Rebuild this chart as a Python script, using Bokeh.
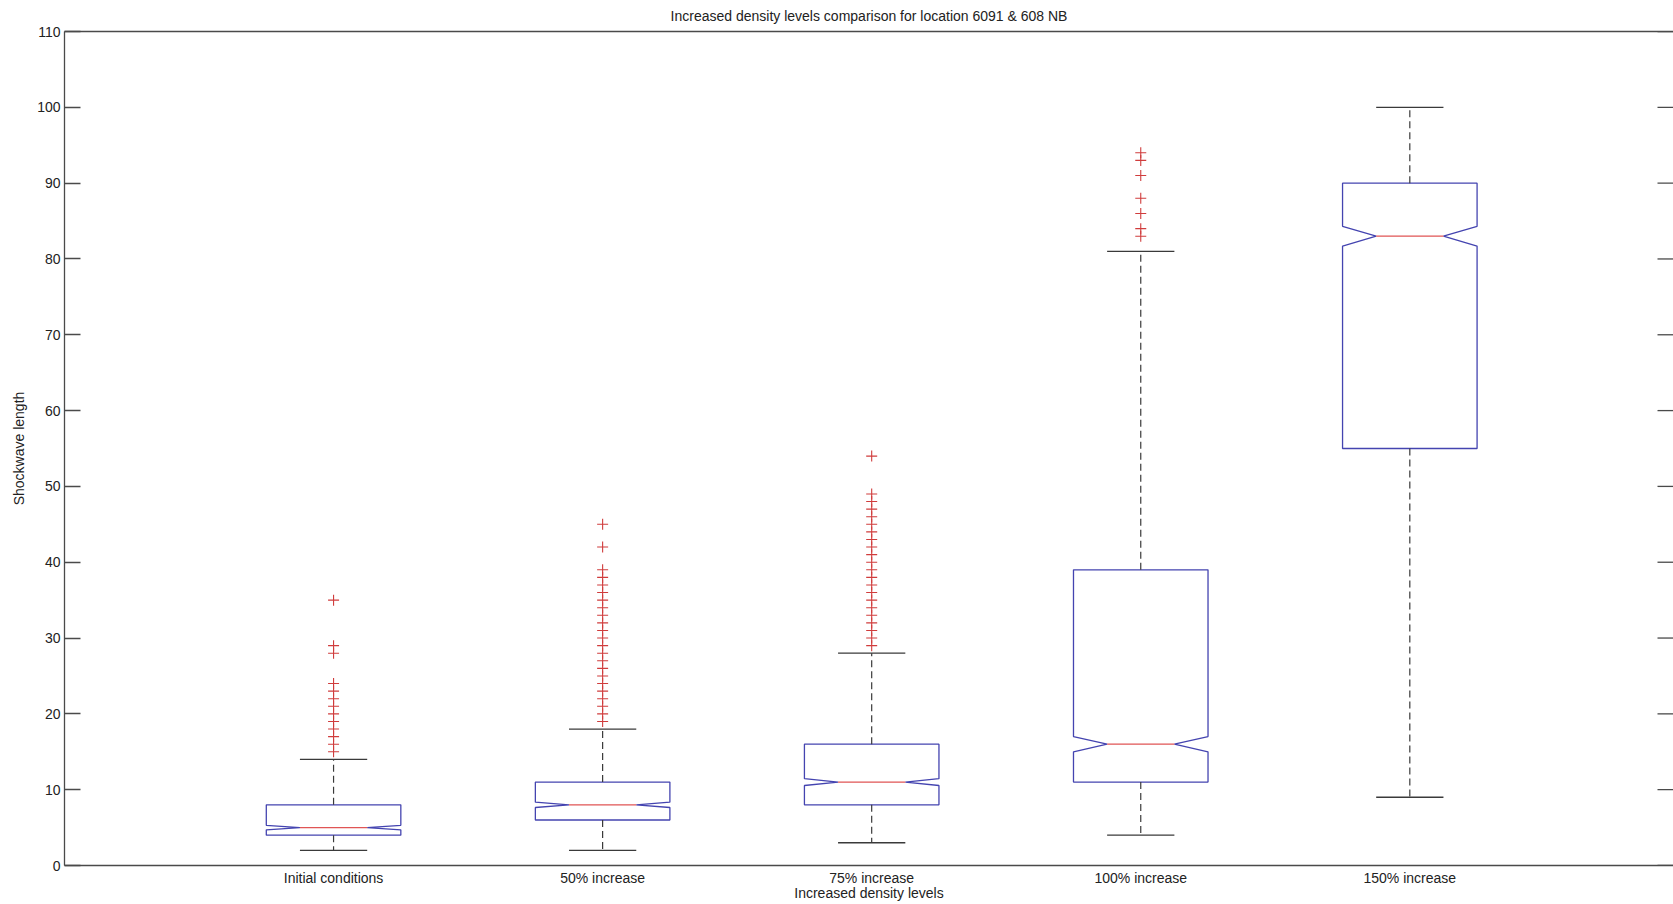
from bokeh.plotting import figure
from bokeh.models import Range1d, FixedTicker, LinearAxis
from bokeh.embed import file_html
from bokeh.resources import INLINE

# ---- data ----
categories = ["Initial conditions", "50% increase", "75% increase", "100% increase", "150% increase"]
lower_whisker = [2, 2, 3, 4, 9]
q1 = [4, 6, 8, 11, 55]
median = [5, 8, 11, 16, 83]
q3 = [8, 11, 16, 39, 90]
upper_whisker = [14, 18, 28, 81, 100]
notch_half = [0.3, 0.35, 0.45, 1.0, 1.3]

outliers_initial = [35, 29, 28, 24, 23, 22, 21, 20, 19, 18, 17, 16, 15]
outliers_50 = [45, 42, 39, 38, 37, 36, 35, 34, 33, 32, 31, 30, 29, 28, 27, 26, 25, 24, 23, 22, 21, 20, 19]
outliers_75 = [54, 49, 48, 47, 46, 45, 44, 43, 42, 41, 40, 39, 38, 37, 36, 35, 34, 33, 32, 31, 30, 29]
outliers_100 = [94, 93, 91, 88, 86, 84, 83]
outliers_150 = []
outliers = [outliers_initial, outliers_50, outliers_75, outliers_100, outliers_150]

y_ticks = [0, 10, 20, 30, 40, 50, 60, 70, 80, 90, 100, 110]

TITLE = "Increased density levels comparison for location 6091 & 608 NB"
X_LABEL = "Increased density levels"
Y_LABEL = "Shockwave length"

# ---- styling ----
FONT = "Liberation Sans"
TEXT_COLOR = "#222222"
BOX_COLOR = "#4444b0"
MED_COLOR = "#e05555"
WHISK_COLOR = "#3a3a3a"
OUT_COLOR = "#d03c3c"
AXIS_COLOR = "#4a4a4a"
BOX_HALF = 0.25
CAP_HALF = 0.125
NOTCH_IN = 0.125
X_MIN, X_MAX = 0, 5.98
TICK_PX = 16

positions = [i + 1 for i in range(len(categories))]

p = figure(width=1673, height=904,
           x_range=Range1d(X_MIN, X_MAX), y_range=Range1d(0, 110),
           output_backend="svg", toolbar_location=None,
           title=TITLE,
           min_border_left=64, min_border_right=0,
           min_border_top=31, min_border_bottom=39,
           background_fill_color="white", border_fill_color="white",
           outline_line_color=None)
p.grid.visible = False

p.title.text_font = FONT
p.title.text_font_size = "14px"
p.title.text_font_style = "normal"
p.title.text_color = TEXT_COLOR
p.title.align = "center"
p.title.vertical_align = "top"
p.title.standoff = 12

# x axis (bottom)
xa = p.xaxis[0]
xa.ticker = FixedTicker(ticks=positions)
xa.major_label_overrides = {pos: cat for pos, cat in zip(positions, categories)}
xa.major_tick_line_color = None
xa.major_tick_in = 0
xa.major_tick_out = 0
xa.minor_tick_line_color = None
xa.axis_line_color = AXIS_COLOR
xa.axis_line_width = 1.3
xa.major_label_text_font = FONT
xa.major_label_text_font_size = "14px"
xa.major_label_text_color = TEXT_COLOR
xa.major_label_standoff = 4
xa.axis_label = X_LABEL
xa.axis_label_text_font = FONT
xa.axis_label_text_font_size = "14px"
xa.axis_label_text_font_style = "normal"
xa.axis_label_text_color = TEXT_COLOR
xa.axis_label_standoff = -4

# y axis (left)
ya = p.yaxis[0]
ya.ticker = FixedTicker(ticks=y_ticks)
ya.minor_tick_line_color = None
ya.major_tick_in = TICK_PX
ya.major_tick_out = 0
ya.major_tick_line_color = AXIS_COLOR
ya.major_tick_line_width = 1.3
ya.axis_line_color = AXIS_COLOR
ya.axis_line_width = 1.3
ya.major_label_text_font = FONT
ya.major_label_text_font_size = "14px"
ya.major_label_text_color = TEXT_COLOR
ya.major_label_standoff = 4
ya.axis_label = Y_LABEL
ya.axis_label_text_font = FONT
ya.axis_label_text_font_size = "14px"
ya.axis_label_text_font_style = "normal"
ya.axis_label_text_color = TEXT_COLOR
ya.axis_label_standoff = 7

# top axis: border line only
ta = LinearAxis(ticker=FixedTicker(ticks=[]), axis_line_color=AXIS_COLOR, axis_line_width=1.3,
                major_tick_line_color=None, minor_tick_line_color=None,
                major_tick_in=0, major_tick_out=0, major_label_standoff=0)
p.add_layout(ta, "above")

# notched boxes
xs, ys = [], []
for pos, a, m, b, nh in zip(positions, q1, median, q3, notch_half):
    xs.append([pos - BOX_HALF, pos - BOX_HALF, pos - NOTCH_IN, pos - BOX_HALF, pos - BOX_HALF,
               pos + BOX_HALF, pos + BOX_HALF, pos + NOTCH_IN, pos + BOX_HALF, pos + BOX_HALF])
    ys.append([a, m - nh, m, m + nh, b, b, m + nh, m, m - nh, a])
p.patches(xs, ys, fill_color=None, line_color=BOX_COLOR, line_width=1.3)

# medians
p.segment(x0=[x - NOTCH_IN for x in positions], x1=[x + NOTCH_IN for x in positions],
          y0=median, y1=median, line_color=MED_COLOR, line_width=1.2)

# whiskers (dashed)
p.segment(x0=positions, x1=positions, y0=q3, y1=upper_whisker,
          line_color=WHISK_COLOR, line_width=1.2, line_dash="7 4")
p.segment(x0=positions, x1=positions, y0=q1, y1=lower_whisker,
          line_color=WHISK_COLOR, line_width=1.2, line_dash="7 4")
# caps
p.segment(x0=[x - CAP_HALF for x in positions], x1=[x + CAP_HALF for x in positions],
          y0=upper_whisker, y1=upper_whisker, line_color=WHISK_COLOR, line_width=1.3)
p.segment(x0=[x - CAP_HALF for x in positions], x1=[x + CAP_HALF for x in positions],
          y0=lower_whisker, y1=lower_whisker, line_color=WHISK_COLOR, line_width=1.3)

# outliers
ox, oy = [], []
for pos, vals in zip(positions, outliers):
    for v in vals:
        ox.append(pos)
        oy.append(v)
p.scatter(x=ox, y=oy, marker="cross", size=11, line_color=OUT_COLOR, line_width=1.1)

# right-hand inward ticks (right border itself falls outside the window)
frame_w = 1673 - 64
tick_len = TICK_PX * (X_MAX - X_MIN) / frame_w
p.segment(x0=[X_MAX - tick_len] * len(y_ticks), x1=[X_MAX] * len(y_ticks),
          y0=y_ticks, y1=y_ticks, line_color=AXIS_COLOR, line_width=1.3)

open("out.html", "w").write(file_html(p, INLINE))
